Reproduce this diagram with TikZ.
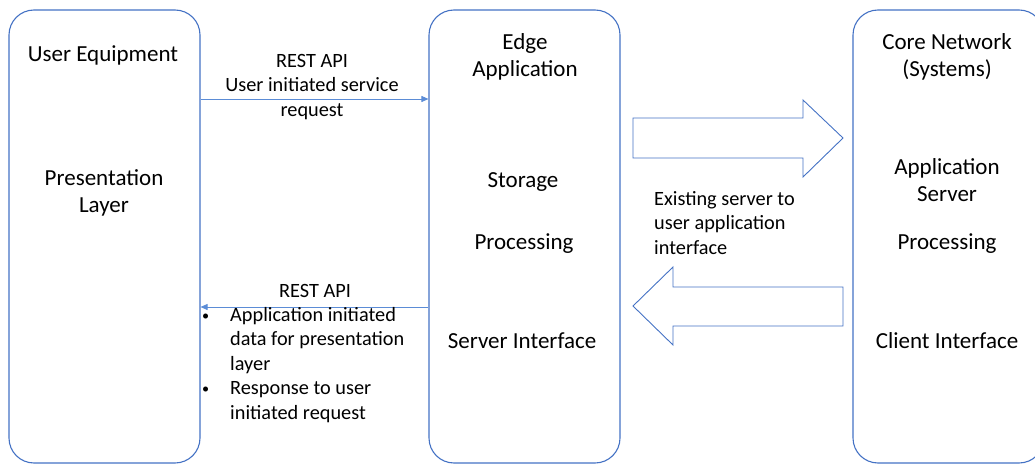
\documentclass[tikz,border=0pt]{standalone}
\usepackage{fontspec}
\setmainfont{Carlito}
\usetikzlibrary{arrows.meta}
\definecolor{boxblue}{RGB}{68,114,196}
\definecolor{lineblue}{RGB}{91,140,214}
\newcommand{\dotmark}{\raisebox{1pt}{\scalebox{0.7}{\textbullet}}}
\tikzset{
  tier/.style={draw=boxblue, line width=1.1pt, rounded corners=25pt,
    minimum width=191pt, minimum height=453pt, inner sep=0pt},
  big/.style={font=\fontsize{23}{27}\selectfont, align=center, inner sep=0pt},
  small/.style={font=\fontsize{20.3}{24.5}\selectfont, align=center, inner sep=0pt},
  flow/.style={draw=lineblue, line width=0.8pt, -{Triangle[length=7pt,width=6pt]}},
  fat/.style={draw=boxblue, line width=0.9pt, line join=miter},
}

\begin{document}
\begin{tikzpicture}[x=1pt, y=-1pt]
  \useasboundingbox (0,0) rectangle (1035,465);
  \clip (0,0) rectangle (1035,465);

  % tiers
  \node[tier] (ue) at (104.5,236.5) {};
  \node[tier] (edge) at (524.5,236.5) {};
  \node[tier] (core) at (948.5,236.5) {};

  % what each tier holds
  \node[big] (uetitle) at (103,55) {User Equipment};
  \node[big] (present) at (104,193) {Presentation\\Layer};
  \node[big] (edgetitle) at (525,57) {Edge\\Application};
  \node[big] (storage) at (523,182) {Storage};
  \node[big] (edgeproc) at (524,244) {Processing};
  \node[big] (srvif) at (522,341) {Server Interface};
  \node[big] (coretitle) at (947,57) {Core Network\\(Systems)};
  \node[big] (appsrv) at (947,180) {Application\\Server};
  \node[big] (coreproc) at (947,244) {Processing};
  \node[big] (clientif) at (947,341) {Client Interface};

  % request and response
  \draw[flow] (ue.east |- 0,99) -- (edge.west |- 0,99);
  \node[small] (reqlbl) at (312,87) {REST API\\User initiated service\\request};
  \draw[flow] (edge.west |- 0,307) -- (ue.east |- 0,307);
  \node[small] (resplbl) at (315,291) {REST API};
  \node[small, align=left, anchor=north west] (resplist) at (202,304)
    {\begin{tabular}{@{}p{28pt}@{}l@{}}
      \dotmark & Application initiated\\
               & data for presentation\\
               & layer\\
      \dotmark & Response to user\\
               & initiated request
    \end{tabular}};

  % existing interface
  \draw[fat] (633,118) -- (803,118) -- (803,100) -- (843,138)
    -- (803,177) -- (803,158) -- (633,158) -- cycle;
  \draw[fat] (843,287) -- (673,287) -- (673,267) -- (633,306)
    -- (673,345) -- (673,326) -- (843,326) -- cycle;
  \node[small, align=left, anchor=west] (existing) at (654,223)
    {Existing server to\\user application\\interface};
\end{tikzpicture}
\end{document}
